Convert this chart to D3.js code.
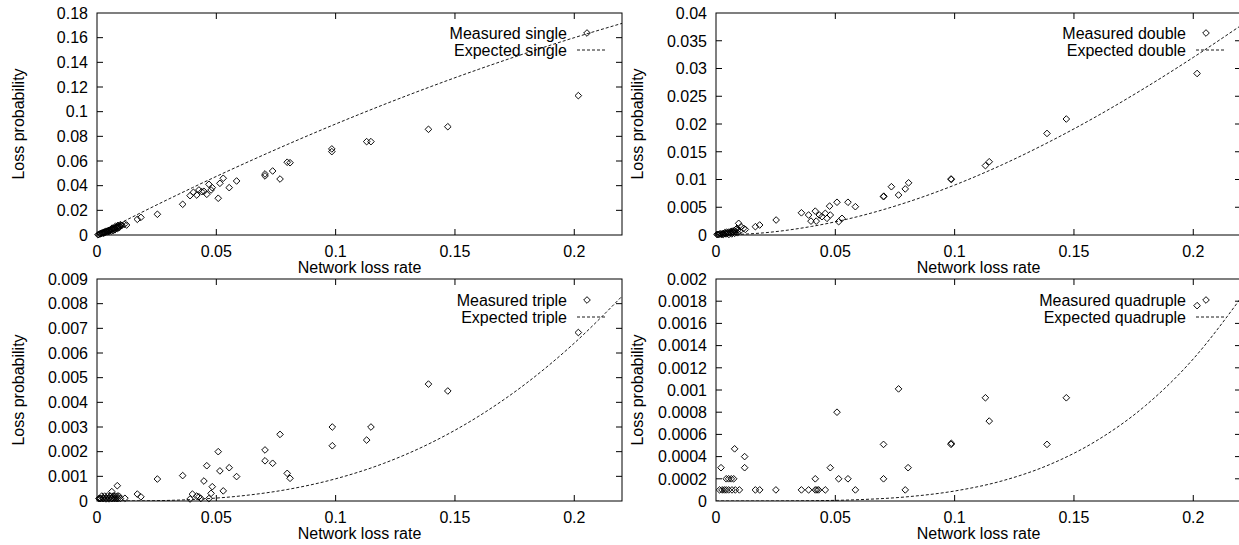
<!DOCTYPE html>
<html>
<head>
<meta charset="utf-8">
<script src="https://cdn.jsdelivr.net/npm/d3@7"></script>
<style>
  body { margin: 0; background: #fff; }
  svg { display: block; }
  text { font-family: "Liberation Sans", Arial, Helvetica, sans-serif; font-size: 16px; fill: #000; }
</style>
</head>
<body>
<figure style="margin:0"></figure>
<script>
// x tick labels shared by all panels
const xTicks = [0, 0.05, 0.1, 0.15, 0.2];

// y tick labels per panel
const singleTicks = [0, 0.02, 0.04, 0.06, 0.08, 0.1, 0.12, 0.14, 0.16, 0.18];
const doubleTicks = [0, 0.005, 0.01, 0.015, 0.02, 0.025, 0.03, 0.035, 0.04];
const tripleTicks = [0, 0.001, 0.002, 0.003, 0.004, 0.005, 0.006, 0.007, 0.008, 0.009];
const quadTicks = [0, 0.0002, 0.0004, 0.0006, 0.0008, 0.001, 0.0012, 0.0014, 0.0016, 0.0018, 0.002];

// measured points [network loss rate, loss probability]
const measuredSingle = [
  [0.0004, 0.0002], [0.0008, 0.0005], [0.0012, 0.0009], [0.0015, 0.0011], [0.0018, 0.0013], [0.0021, 0.0016],
  [0.0024, 0.0017], [0.0027, 0.002], [0.003, 0.0023], [0.0033, 0.0024], [0.0036, 0.0027],
  [0.004, 0.003], [0.0043, 0.0032], [0.0047, 0.0035], [0.005, 0.0038], [0.0054, 0.004],
  [0.0058, 0.0044], [0.0062, 0.0047], [0.0066, 0.005], [0.007, 0.0053], [0.0074, 0.0057],
  [0.0078, 0.006], [0.0082, 0.0063], [0.0086, 0.0066], [0.009, 0.0068], [0.0095, 0.0072],
  [0.01, 0.0076], [0.0105, 0.0079], [0.0028, 0.0014], [0.0052, 0.0029], [0.0068, 0.0036],
  [0.0085, 0.0052], [0.0078, 0.0072], [0.0124, 0.0081], [0.0035, 0.0019], [0.0045, 0.0025],
  [0.006, 0.0032], [0.0075, 0.0042], [0.0092, 0.0058], [0.0098, 0.0084], [0.0088, 0.0078],
  [0.0064, 0.0056], [0.0115, 0.0086],
  [0.0169, 0.0127], [0.0184, 0.0143], [0.0253, 0.0168], [0.0359, 0.0249], [0.039, 0.0319],
  [0.0404, 0.0346], [0.0418, 0.0324], [0.0427, 0.0365], [0.0439, 0.0351], [0.0448, 0.0354],
  [0.046, 0.033], [0.0469, 0.0411], [0.0478, 0.0365], [0.0483, 0.0384], [0.0508, 0.0298],
  [0.0515, 0.0419], [0.0529, 0.046], [0.0554, 0.0384], [0.0585, 0.0438], [0.0704, 0.0495],
  [0.0704, 0.0479], [0.0736, 0.0519], [0.0767, 0.0454], [0.0797, 0.059], [0.0809, 0.0586],
  [0.0984, 0.0698], [0.0984, 0.0676], [0.113, 0.0757], [0.1148, 0.0757], [0.1389, 0.0857],
  [0.147, 0.0878], [0.2017, 0.113]
];

const measuredDouble = [
  [0.0004, 0.0001], [0.0008, 0.0001], [0.0012, 0.0001], [0.0016, 0.0002], [0.002, 0.0002], [0.0024, 0.0001],
  [0.0028, 0.0003], [0.0032, 0.0002], [0.0036, 0.0004], [0.004, 0.0003], [0.0044, 0.0005],
  [0.0048, 0.0003], [0.0052, 0.0005], [0.0056, 0.0004], [0.006, 0.0006], [0.0064, 0.0004],
  [0.0068, 0.0007], [0.0072, 0.0005], [0.0076, 0.0008], [0.008, 0.0006], [0.0084, 0.001],
  [0.0088, 0.0012], [0.0092, 0.0009], [0.0095, 0.0021], [0.0105, 0.0015], [0.0116, 0.0012],
  [0.0123, 0.001], [0.003, 0.0001], [0.0042, 0.0002], [0.0054, 0.0001], [0.0066, 0.0002],
  [0.0078, 0.0003], [0.009, 0.0004], [0.01, 0.0007],
  [0.0165, 0.0015], [0.0183, 0.0018], [0.0252, 0.0027], [0.0358, 0.004],
  [0.0388, 0.0036], [0.0398, 0.0025], [0.0416, 0.0043], [0.042, 0.0025], [0.0433, 0.0036],
  [0.0444, 0.0033], [0.0458, 0.0039], [0.0465, 0.003], [0.0476, 0.0052], [0.0479, 0.0036],
  [0.0507, 0.0059], [0.0514, 0.0024], [0.0528, 0.003], [0.0553, 0.0059], [0.0584, 0.0051],
  [0.0702, 0.0069], [0.0703, 0.007], [0.0735, 0.0087], [0.0765, 0.0072], [0.0793, 0.0083],
  [0.0807, 0.0094], [0.0985, 0.0101], [0.0986, 0.01], [0.1129, 0.0125], [0.1145, 0.0132],
  [0.1387, 0.0183], [0.1468, 0.0209], [0.2016, 0.0291]
];

const measuredTriple = [
  [0.0008, 0.0001], [0.0012, 0.0001], [0.0016, 0.0001], [0.002, 0.0002], [0.0024, 0.0001],
  [0.0028, 0.0001], [0.0032, 0.0002], [0.0036, 0.0001], [0.004, 0.0001], [0.0044, 0.0002],
  [0.0048, 0.0001], [0.0052, 0.0001], [0.0056, 0.0002], [0.006, 0.0001], [0.0064, 0.0001],
  [0.0068, 0.0002], [0.0072, 0.0001], [0.0076, 0.0002], [0.008, 0.0001], [0.0084, 0.0002],
  [0.0088, 0.0001], [0.0092, 0.0002], [0.0098, 0.0001], [0.0062, 0.00038], [0.0085, 0.00062],
  [0.0117, 0.00011], [0.0169, 0.00028], [0.0184, 0.00017], [0.0253, 0.00089], [0.0359, 0.00103],
  [0.039, 0.00008], [0.04, 0.00028], [0.0418, 0.0002], [0.0427, 0.00017], [0.0435, 0.0001],
  [0.0448, 0.00081], [0.046, 0.00143], [0.0469, 0.0001], [0.0478, 0.00031], [0.0483, 0.00058],
  [0.0508, 0.002], [0.0515, 0.00122], [0.0529, 0.00041], [0.0554, 0.00135], [0.0585, 0.00099],
  [0.0704, 0.00207], [0.0704, 0.00163], [0.0736, 0.00153], [0.0767, 0.0027], [0.0797, 0.00112],
  [0.0809, 0.00092], [0.0986, 0.003], [0.0986, 0.00224], [0.113, 0.00247], [0.1148, 0.003],
  [0.1389, 0.00474], [0.147, 0.00446], [0.2017, 0.00683]
];

const measuredQuad = [
  [0.0015, 0.0001], [0.0025, 0.0001], [0.0035, 0.0001], [0.0043, 0.0001], [0.0053, 0.0001],
  [0.0067, 0.0001], [0.0081, 0.0001], [0.0098, 0.0001], [0.0165, 0.0001], [0.0183, 0.0001],
  [0.0251, 0.0001], [0.0358, 0.0001], [0.0388, 0.0001], [0.0416, 0.0001], [0.0423, 0.0001],
  [0.043, 0.0001], [0.0458, 0.0001], [0.0584, 0.0001], [0.0793, 0.0001],
  [0.0043, 0.0002], [0.0053, 0.0002], [0.0064, 0.0002], [0.0074, 0.0002], [0.0416, 0.0002],
  [0.0514, 0.0002], [0.0553, 0.0002], [0.0702, 0.0002],
  [0.0021, 0.0003], [0.012, 0.0003], [0.0479, 0.0003], [0.0805, 0.0003],
  [0.012, 0.0004], [0.0078, 0.00047], [0.0702, 0.00051], [0.0507, 0.0008], [0.0765, 0.00101],
  [0.0985, 0.00051], [0.0986, 0.00052], [0.1129, 0.00093], [0.1145, 0.00072], [0.1387, 0.00051],
  [0.1468, 0.00093], [0.2016, 0.00176]
];

// expected curves, read at fixed loss rates
const expectedX = [0, 0.02, 0.04, 0.06, 0.08, 0.1, 0.12, 0.14, 0.16, 0.18, 0.2, 0.22];
const expectedSingle = [0, 0.0196, 0.0384, 0.0564, 0.0736, 0.09, 0.1056, 0.1204, 0.1344, 0.1476, 0.16, 0.1716];
const expectedDouble = [0, 0.00039, 0.00154, 0.00338, 0.00589, 0.009, 0.01267, 0.01686, 0.0215, 0.02657, 0.032, 0.03775];
const expectedTriple = [0, 0.0000078, 0.0000614, 0.000203, 0.000471, 0.0009, 0.00152, 0.00236, 0.00344, 0.00478, 0.0064, 0.0083];
const expectedQuad = [0, 0.0000002, 0.0000025, 0.0000122, 0.0000377, 0.00009, 0.000182, 0.00033, 0.00055, 0.00086, 0.00128, 0.00183];

const panels = [
  { name: "single", left: 97, top: 13, ymax: 0.18, ticks: singleTicks, measured: measuredSingle, expected: expectedSingle },
  { name: "double", left: 716, top: 13, ymax: 0.04, ticks: doubleTicks, measured: measuredDouble, expected: expectedDouble },
  { name: "triple", left: 97, top: 279, ymax: 0.009, ticks: tripleTicks, measured: measuredTriple, expected: expectedTriple },
  { name: "quadruple", left: 716, top: 279, ymax: 0.002, ticks: quadTicks, measured: measuredQuad, expected: expectedQuad },
];

const plotW = 525;
const plotH = 222;
const tickLen = 6;
const fmt = d3.format("~g");

const svg = d3.select("figure").append("svg").attr("width", 1239).attr("height", 545);

const diamond = d3.symbol(d3.symbolSquare, 22);

panels.forEach((p, i) => {
  const x = d3.scaleLinear().domain([0, 0.22]).range([0, plotW]);
  const y = d3.scaleLinear().domain([0, p.ymax]).range([plotH, 0]);
  const g = svg.append("g").attr("transform", `translate(${p.left},${p.top})`);

  g.append("clipPath").attr("id", `clip-${i}`)
    .append("rect").attr("width", plotW).attr("height", plotH);

  // ticks on all four sides, pointing inward
  g.selectAll("line.yt").data(p.ticks.slice(1, -1)).join("line")
    .attr("x1", 0).attr("x2", tickLen).attr("y1", y).attr("y2", y)
    .attr("stroke", "#000");
  g.selectAll("line.yt2").data(p.ticks.slice(1, -1)).join("line")
    .attr("x1", plotW).attr("x2", plotW - tickLen).attr("y1", y).attr("y2", y)
    .attr("stroke", "#000");
  g.selectAll("line.xt").data(xTicks.slice(1)).join("line")
    .attr("x1", x).attr("x2", x).attr("y1", plotH).attr("y2", plotH - tickLen)
    .attr("stroke", "#000");
  g.selectAll("line.xt2").data(xTicks.slice(1)).join("line")
    .attr("x1", x).attr("x2", x).attr("y1", 0).attr("y2", tickLen)
    .attr("stroke", "#000");

  // tick labels
  g.selectAll("text.yl").data(p.ticks).join("text")
    .attr("x", -9).attr("y", y).attr("dy", "0.36em")
    .attr("text-anchor", "end").text(fmt);
  g.selectAll("text.xl").data(xTicks).join("text")
    .attr("x", x).attr("y", plotH + 16).attr("dy", "0.36em")
    .attr("text-anchor", "middle").text(fmt);

  // axis titles
  g.append("text").attr("x", plotW / 2).attr("y", plotH + 32).attr("dy", "0.36em")
    .attr("text-anchor", "middle").text("Network loss rate");
  g.append("text")
    .attr("transform", `translate(-79,${plotH / 2}) rotate(-90)`)
    .attr("dy", "0.36em").attr("text-anchor", "middle").text("Loss probability");

  // expected curve
  const line = d3.line().x((d) => x(d[0])).y((d) => y(d[1])).curve(d3.curveMonotoneX);
  g.append("path")
    .datum(expectedX.map((v, k) => [v, p.expected[k]]))
    .attr("clip-path", `url(#clip-${i})`)
    .attr("d", line)
    .attr("fill", "none").attr("stroke", "#000").attr("stroke-width", 0.9)
    .attr("stroke-dasharray", "3,2");

  // measured points
  g.selectAll("path.pt").data(p.measured).join("path")
    .attr("d", diamond)
    .attr("transform", (d) => `translate(${x(d[0])},${y(d[1])}) rotate(45)`)
    .attr("fill", "none").attr("stroke", "#000").attr("stroke-width", 0.9);

  // legend
  const ly1 = p.top < 100 ? 20 : 21;
  const ly2 = p.top < 100 ? 37 : 38;
  g.append("text").attr("x", 470).attr("y", ly1).attr("dy", "0.36em")
    .attr("text-anchor", "end").text(`Measured ${p.name}`);
  g.append("text").attr("x", 470).attr("y", ly2).attr("dy", "0.36em")
    .attr("text-anchor", "end").text(`Expected ${p.name}`);
  g.append("path").attr("d", diamond)
    .attr("transform", `translate(490,${ly1}) rotate(45)`)
    .attr("fill", "none").attr("stroke", "#000").attr("stroke-width", 0.9);
  g.append("line").attr("x1", 480).attr("x2", 510).attr("y1", ly2).attr("y2", ly2)
    .attr("stroke", "#000").attr("stroke-width", 0.9).attr("stroke-dasharray", "3,2");

  // border
  g.append("rect").attr("width", plotW).attr("height", plotH)
    .attr("fill", "none").attr("stroke", "#000").attr("stroke-width", 1);
});
</script>
</body>
</html>
